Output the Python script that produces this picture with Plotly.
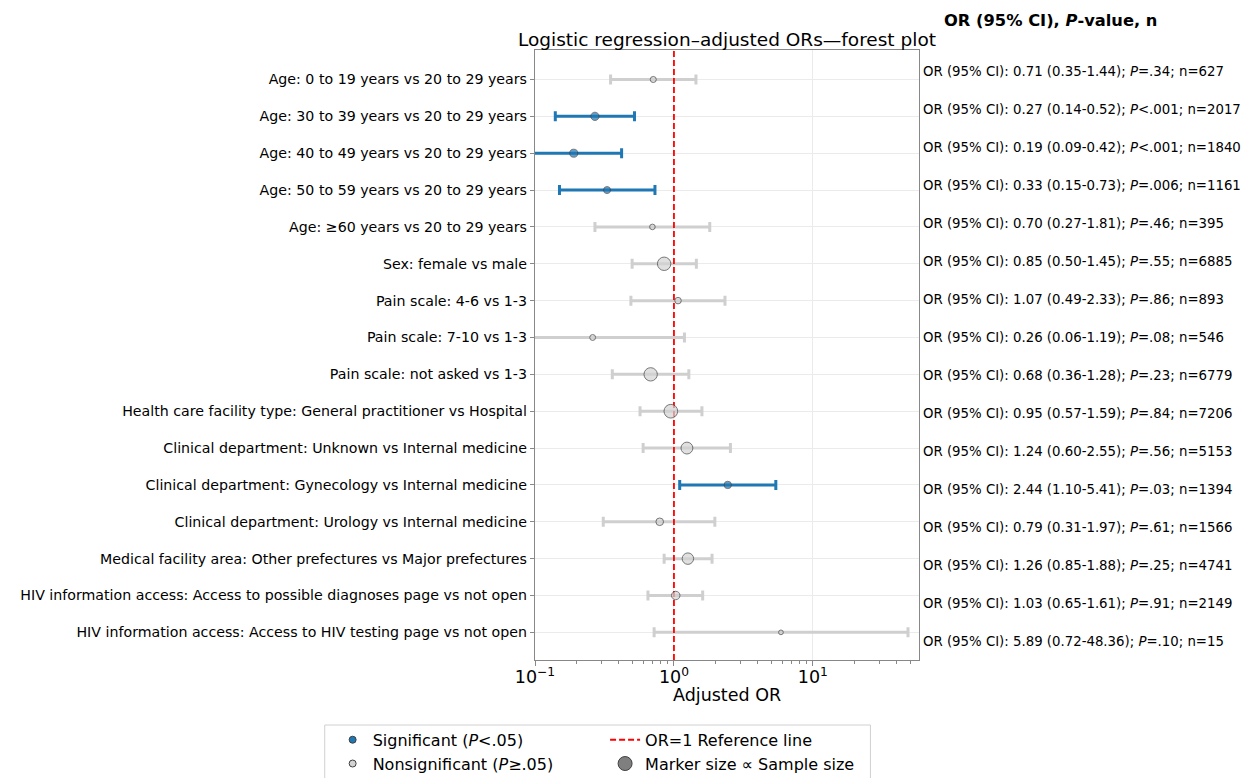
import math
import plotly.graph_objects as go

# ---------------- data ----------------
labels = [
    "Age: 0 to 19 years vs 20 to 29 years",
    "Age: 30 to 39 years vs 20 to 29 years",
    "Age: 40 to 49 years vs 20 to 29 years",
    "Age: 50 to 59 years vs 20 to 29 years",
    "Age: ≥60 years vs 20 to 29 years",
    "Sex: female vs male",
    "Pain scale: 4-6 vs 1-3",
    "Pain scale: 7-10 vs 1-3",
    "Pain scale: not asked vs 1-3",
    "Health care facility type: General practitioner vs Hospital",
    "Clinical department: Unknown vs Internal medicine",
    "Clinical department: Gynecology vs Internal medicine",
    "Clinical department: Urology vs Internal medicine",
    "Medical facility area: Other prefectures vs Major prefectures",
    "HIV information access: Access to possible diagnoses page vs not open",
    "HIV information access: Access to HIV testing page vs not open",
]
or_vals = [0.71, 0.27, 0.19, 0.33, 0.70, 0.85, 1.07, 0.26, 0.68, 0.95, 1.24, 2.44, 0.79, 1.26, 1.03, 5.89]
ci_low = [0.35, 0.14, 0.09, 0.15, 0.27, 0.50, 0.49, 0.06, 0.36, 0.57, 0.60, 1.10, 0.31, 0.85, 0.65, 0.72]
ci_high = [1.44, 0.52, 0.42, 0.73, 1.81, 1.45, 2.33, 1.19, 1.28, 1.59, 2.55, 5.41, 1.97, 1.88, 1.61, 48.36]
p_text = ["=.34", "<.001", "<.001", "=.006", "=.46", "=.55", "=.86", "=.08", "=.23", "=.84",
          "=.56", "=.03", "=.61", "=.25", "=.91", "=.10"]
n_vals = [627, 2017, 1840, 1161, 395, 6885, 893, 546, 6779, 7206, 5153, 1394, 1566, 4741, 2149, 15]
significant = [False, True, True, True, False, False, False, False, False, False,
               False, True, False, False, False, False]

x_tick_vals = [0.1, 1, 10]
x_tick_text = ["10<sup>−1</sup>", "10<sup>0</sup>", "10<sup>1</sup>"]
ref_or = 1
y_range = [15.75, -0.8]
x_range = [0.1, max(ci_high) * 1.2]

# ---------------- style ----------------
FONT = "DejaVu Sans"
BLUE = "#1f77b4"
GRAY_BAR = "#cfcfcf"
GRAY_FILL = "#d3d3d3"
EDGE = "#404040"


def msize(n):
    return math.sqrt(22 + 0.023 * n)


idx = list(range(len(labels)))
fig = go.Figure()


def subset(flag):
    return [i for i in idx if significant[i] == flag]


def errbar_trace(flag):
    ii = subset(flag)
    color = BLUE if flag else GRAY_BAR
    return go.Scatter(
        x=[or_vals[i] for i in ii], y=ii, mode="markers",
        marker=dict(size=1, opacity=0),
        error_x=dict(type="data", symmetric=False,
                     array=[ci_high[i] - or_vals[i] for i in ii],
                     arrayminus=[or_vals[i] - ci_low[i] for i in ii],
                     color=color, thickness=3, width=5),
        showlegend=False, hoverinfo="skip",
    )


def marker_trace(flag):
    ii = subset(flag)
    return go.Scatter(
        x=[or_vals[i] for i in ii], y=ii, mode="markers",
        marker=dict(size=[msize(n_vals[i]) for i in ii],
                    color=BLUE if flag else GRAY_FILL,
                    line=dict(color=EDGE, width=1)),
        showlegend=False,
    )


fig.add_trace(errbar_trace(False))
fig.add_trace(go.Scatter(
    x=[ref_or, ref_or], y=y_range, mode="lines",
    line=dict(color="red", width=1.8, dash="6px,3px"),
    name="OR=1 Reference line", legend="legend2", legendrank=1, hoverinfo="skip",
))
fig.add_trace(errbar_trace(True))
fig.add_trace(marker_trace(False))
fig.add_trace(marker_trace(True))

# legend entries
fig.add_trace(go.Scatter(x=[None], y=[None], mode="markers",
                         marker=dict(size=7, color=BLUE, line=dict(color=EDGE, width=1)),
                         name="Significant (<i>P</i><.05)", legend="legend", legendrank=1))
fig.add_trace(go.Scatter(x=[None], y=[None], mode="markers",
                         marker=dict(size=7, color=GRAY_FILL, line=dict(color=EDGE, width=1)),
                         name="Nonsignificant (<i>P</i>≥.05)", legend="legend", legendrank=2))
fig.add_trace(go.Scatter(x=[None], y=[None], mode="markers",
                         marker=dict(size=14, color="#7f7f7f", line=dict(color=EDGE, width=1)),
                         name="Marker size ∝ Sample size", legend="legend2", legendrank=2))

# right-side annotations
ann_top = 0.964
ann_step = 0.0622
annotations = []
for i in idx:
    txt = (f"OR (95% CI): {or_vals[i]:.2f} ({ci_low[i]:.2f}-{ci_high[i]:.2f}); "
           f"<i>P</i>{p_text[i]}; n={n_vals[i]}")
    annotations.append(dict(
        x=1.004, y=ann_top - i * ann_step, xref="paper", yref="paper",
        xanchor="left", yanchor="middle", text=txt, showarrow=False,
        font=dict(family=FONT, size=13.3, color="black"),
    ))
annotations.append(dict(
    x=1.06, y=1.049, xref="paper", yref="paper", xanchor="left", yanchor="middle",
    text="<b>OR (95% CI), <i>P</i>-value, n</b>", showarrow=False,
    font=dict(family=FONT, size=16.3, color="black"),
))
annotations.append(dict(
    x=0.5, y=-0.058, xref="paper", yref="paper", xanchor="center", yanchor="middle",
    text="Adjusted OR", showarrow=False,
    font=dict(family=FONT, size=17.5, color="black"),
))

minor_vals = [m * 10 ** e for e in (-1, 0, 1) for m in range(2, 10) if m * 10 ** e < x_range[1]]

legend_common = dict(orientation="v", bgcolor="rgba(0,0,0,0)", xanchor="left", yanchor="top",
                     font=dict(family=FONT, size=16, color="black"), tracegroupgap=0)

fig.update_layout(
    width=1250, height=778,
    margin=dict(l=535, r=331, t=50, b=118, autoexpand=False),
    paper_bgcolor="white", plot_bgcolor="white",
    font=dict(family=FONT, color="black"),
    title=dict(text="Logistic regression–adjusted ORs—forest plot",
               x=0.5, xref="paper", xanchor="center",
               y=1 - 40 / 778, yanchor="middle",
               font=dict(family=FONT, size=18.5, color="black")),
    annotations=annotations,
    showlegend=True,
    legend=dict(x=-0.527, y=-0.103, **legend_common),
    legend2=dict(x=0.1825, y=-0.103, **legend_common),
    shapes=[dict(type="rect", xref="paper", yref="paper",
                 x0=-0.5476, x1=0.8735, y0=-0.1066, y1=-0.26,
                 line=dict(color="#d0d0d0", width=1), fillcolor="rgba(0,0,0,0)",
                 layer="below")],
)

fig.update_xaxes(
    type="log", range=[math.log10(x_range[0]), math.log10(x_range[1])],
    tickmode="array", tickvals=x_tick_vals, ticktext=x_tick_text,
    tickfont=dict(family=FONT, size=17.5, color="black"),
    ticks="outside", ticklen=5, tickcolor="#888", tickwidth=1,
    ticklabelstandoff=-4,
    minor=dict(tickmode="array", tickvals=minor_vals, ticks="outside",
               ticklen=3, tickcolor="#888", showgrid=False),
    showgrid=True, gridcolor="#ebebeb", gridwidth=1,
    showline=True, linecolor="#888", linewidth=1.3, mirror=True,
    zeroline=False, automargin=False,
)
fig.update_yaxes(
    range=y_range, tickmode="array", tickvals=idx, ticktext=labels,
    tickfont=dict(family=FONT, size=14.2, color="black"),
    ticks="outside", ticklen=4, tickcolor="#888",
    showgrid=True, gridcolor="#ebebeb", gridwidth=1,
    showline=True, linecolor="#888", linewidth=1.3, mirror=True,
    zeroline=False, automargin=False,
)

fig.write_html("out.html", config={"displayModeBar": False},
               post_script="document.body.style.margin='0';")
